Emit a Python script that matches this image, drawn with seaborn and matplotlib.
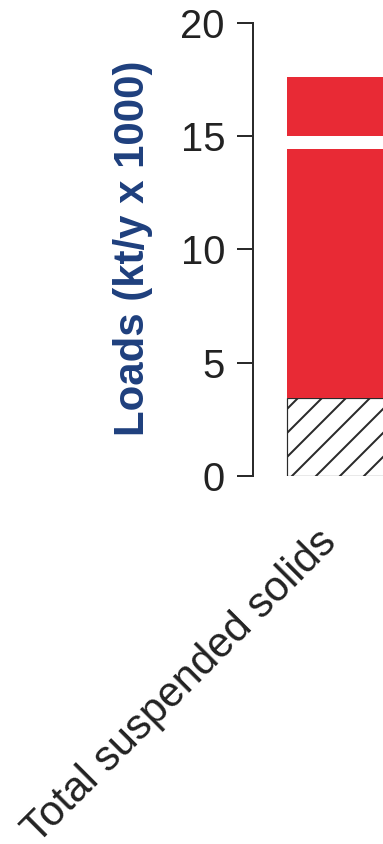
import matplotlib
matplotlib.use("Agg")
import matplotlib.pyplot as plt
import seaborn as sns
import pandas as pd

# Load components for one parameter, stacked bottom-to-top
category = ["Total suspended solids"]
segment_names = ["Background", "Anthropogenic", "Gap", "Uncertainty"]
segment_values = [3.45, 11.0, 0.55, 2.6]
segment_colors = ["white", "#E82A35", "white", "#E82A35"]
segment_hatches = ["//", None, None, None]
y_ticks = [0, 5, 10, 15, 20]

sns.set_theme(style="white")
plt.rcParams["font.family"] = ["Liberation Sans", "DejaVu Sans"]
plt.rcParams["hatch.linewidth"] = 1.0

DPI = 144
fig = plt.figure(figsize=(383 / DPI, 844 / DPI), dpi=DPI)
W, H = 383, 844
ax = fig.add_axes([253 / W, (H - 476) / H, 290 / W, 453 / H])

bottom = 0.0
for name, val, col, hatch in zip(segment_names, segment_values, segment_colors, segment_hatches):
    df = pd.DataFrame({"param": category, "load": [val]})
    if hatch:
        sns.barplot(data=df, x="param", y="load", ax=ax, width=0.8,
                    bottom=bottom, color=col, hatch=hatch,
                    edgecolor="#2a2a2a", linewidth=0.6, saturation=1)
    else:
        sns.barplot(data=df, x="param", y="load", ax=ax, width=0.8,
                    bottom=bottom, color=col, edgecolor="none",
                    linewidth=0, saturation=1)
    bottom += val

ax.set_xlim(-0.634, 1.366)
ax.set_ylim(0, 20)
ax.set_yticks(y_ticks)
ax.set_yticklabels([str(t) for t in y_ticks])

for side in ["top", "right", "bottom"]:
    ax.spines[side].set_visible(False)
ax.spines["left"].set_color("#2b2b2b")
ax.spines["left"].set_linewidth(1.0)

ax.tick_params(axis="y", direction="out", length=8, width=1.0, color="#2b2b2b",
               labelsize=20, labelcolor="#222222", pad=6, left=True)
ax.tick_params(axis="x", length=0, labelsize=21, labelcolor="#222222", pad=23)
for lbl in ax.get_xticklabels():
    lbl.set_rotation(45)
    lbl.set_ha("right")
    lbl.set_va("top")
    lbl.set_rotation_mode("default")

ax.set_xlabel("")
ax.set_ylabel("Loads (kt/y x 1000)", fontsize=21, fontweight="bold", color="#1E3F7D")
ax.yaxis.set_label_coords(-0.345, 0.502)

fig.savefig("out.png", dpi=DPI)
